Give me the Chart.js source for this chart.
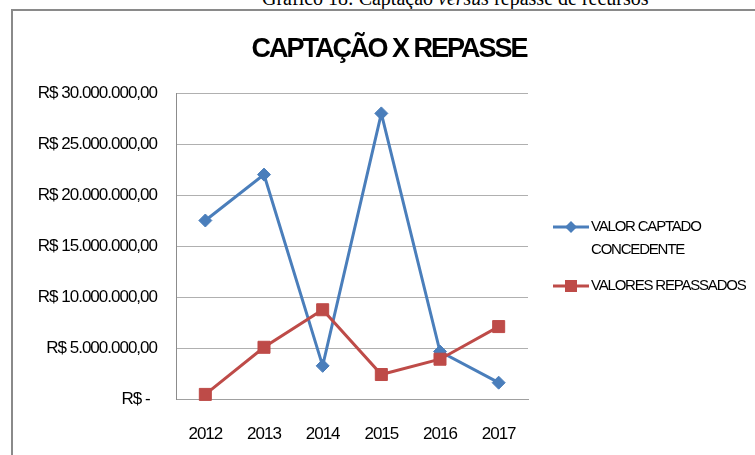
<!DOCTYPE html>
<html lang="pt-BR">
<head>
<meta charset="utf-8">
<title>Captação x Repasse</title>
<script src="https://cdn.jsdelivr.net/npm/chart.js@4.4.1/dist/chart.umd.min.js"></script>
<style>
  html, body { margin: 0; padding: 0; background: #fff; }
  #wrap { position: relative; width: 755px; height: 455px; overflow: hidden; background: #fff; }
  #caption {
    position: absolute; left: 262px; top: -12px;
    font: 20px/20px 'Liberation Serif', 'Times New Roman', serif;
    color: #000; white-space: nowrap;
  }
  #frame {
    position: absolute; left: 11px; top: 9px; width: 800px; height: 500px;
    border-left: 2px solid #8a8a8a; border-top: 2px solid #8a8a8a;
  }
  #chart { position: absolute; left: 0; top: 0; }
</style>
</head>
<body>
<div id="wrap">
  <div id="caption">Gráfico 18: Captação <i>versus</i> repasse de recursos</div>
  <div id="frame"></div>
  <canvas id="chart" width="755" height="455"></canvas>
</div>

<script>
// ---------------------------------------------------------
// dados
// ---------------------------------------------------------
const anos = ['2012', '2013', '2014', '2015', '2016', '2017'];
const valorCaptado = [17500000, 22000000, 3250000, 28000000, 4650000, 1600000];
const valoresRepassados = [450000, 5070000, 8750000, 2400000, 3900000, 7100000];

const nomeCaptado = ['VALOR CAPTADO', 'CONCEDENTE'];
const nomeRepassado = ['VALORES REPASSADOS'];
const tituloGrafico = 'CAPTAÇÃO X REPASSE';

const yMin = 0;
const yMax = 30000000;
const yPasso = 5000000;

const AZUL = '#4A7EBB';
const VERMELHO = '#BE4B48';
const FONTE = "'Liberation Sans', Arial, sans-serif";

// formato contábil "R$ 30.000.000,00" / "R$ -"
function formataReal(v) {
    if (v === 0) return 'R$ -  ';
    const inteiro = Math.round(v).toString().replace(/\B(?=(\d{3})+(?!\d))/g, '.');
    return 'R$ ' + inteiro + ',00';
}

// fonte mais estreita (parecida com a Calibri do original)
const espacamento = {
    id: 'espacamento',
    beforeDraw(chart) {
        chart.ctx.letterSpacing = '-1px';
    }
};

// título e legenda desenhados à mão (legenda com texto em duas linhas)
const tituloELegenda = {
    id: 'tituloELegenda',
    afterDraw(chart) {
        const ctx = chart.ctx;
        ctx.save();

        // título
        ctx.fillStyle = '#000';
        ctx.font = 'bold 27px ' + FONTE;
        ctx.letterSpacing = '-2px';
        ctx.textAlign = 'center';
        ctx.textBaseline = 'alphabetic';
        ctx.fillText(tituloGrafico, 389, 57);

        // legenda
        const itens = [
            { cor: AZUL, estilo: 'losango', linhas: nomeCaptado, y: 227 },
            { cor: VERMELHO, estilo: 'quadrado', linhas: nomeRepassado, y: 286 }
        ];
        itens.forEach(item => {
            ctx.strokeStyle = item.cor;
            ctx.fillStyle = item.cor;
            ctx.lineWidth = 3;
            ctx.beginPath();
            ctx.moveTo(553, item.y);
            ctx.lineTo(589, item.y);
            ctx.stroke();
            const cx = 571;
            ctx.beginPath();
            if (item.estilo === 'losango') {
                ctx.moveTo(cx - 6, item.y);
                ctx.lineTo(cx, item.y - 6);
                ctx.lineTo(cx + 6, item.y);
                ctx.lineTo(cx, item.y + 6);
            } else {
                ctx.rect(cx - 6, item.y - 6, 12, 12);
            }
            ctx.closePath();
            ctx.fill();

            ctx.fillStyle = '#000';
            ctx.font = '15px ' + FONTE;
            ctx.letterSpacing = '-1.2px';
            ctx.textBaseline = 'middle';
            ctx.textAlign = 'left';
            item.linhas.forEach((txt, i) => {
                ctx.fillText(txt, 591, item.y + i * 23);
            });
        });
        ctx.restore();
    }
};

const ctx = document.getElementById('chart').getContext('2d');
new Chart(ctx, {
    type: 'line',
    data: {
        labels: anos,
        datasets: [
            {
                label: nomeCaptado.join(' '),
                data: valorCaptado,
                borderColor: AZUL,
                backgroundColor: AZUL,
                borderWidth: 3,
                pointStyle: 'rectRot',
                pointRadius: 6.5,
                pointBorderWidth: 1,
                tension: 0,
                clip: false,
                order: 2
            },
            {
                label: nomeRepassado.join(' '),
                data: valoresRepassados,
                borderColor: VERMELHO,
                backgroundColor: VERMELHO,
                borderWidth: 3,
                pointStyle: 'rect',
                pointRadius: 8.5,
                pointBorderWidth: 1,
                tension: 0,
                clip: false,
                order: 1
            }
        ]
    },
    options: {
        responsive: false,
        animation: false,
        events: [],
        layout: { padding: { left: 0, right: 227, top: 93, bottom: 0 } },
        plugins: {
            legend: { display: false },
            tooltip: { enabled: false },
            title: { display: false }
        },
        scales: {
            x: {
                offset: true,
                grid: { display: false, drawTicks: false },
                border: { display: true, color: '#a0a0a0', width: 1 },
                ticks: {
                    color: '#000',
                    font: { family: FONTE, size: 17 },
                    padding: 25,
                    maxRotation: 0
                },
                afterFit(scale) { scale.height = 56; }
            },
            y: {
                min: yMin,
                max: yMax,
                grid: { color: '#b0b0b0', lineWidth: 1, drawTicks: false },
                border: { display: true, color: '#8c8c8c', width: 1 },
                ticks: {
                    stepSize: yPasso,
                    color: '#000',
                    font: { family: FONTE, size: 17 },
                    padding: 19,
                    callback: v => formataReal(v)
                },
                afterFit(scale) { scale.width = 176; }
            }
        }
    },
    plugins: [espacamento, tituloELegenda]
});
</script>
</body>
</html>
